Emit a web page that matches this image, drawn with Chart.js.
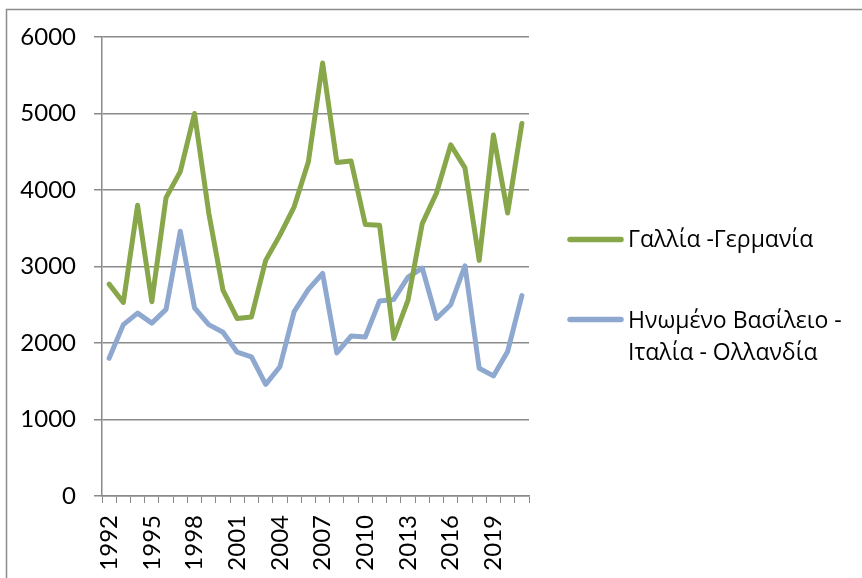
<!DOCTYPE html>
<html>
<head>
<meta charset="utf-8">
<script src="https://cdn.jsdelivr.net/npm/chart.js@4"></script>
<style>
  html, body { margin: 0; padding: 0; background: #ffffff; }
  #wrap { width: 862px; height: 578px; position: relative; }
</style>
</head>
<body>
<div id="wrap"><canvas id="c" width="862" height="578"></canvas></div>
<script>
const years = ['1992','1993','1994','1995','1996','1997','1998','1999','2000','2001',
               '2002','2003','2004','2005','2006','2007','2008','2009','2010','2011',
               '2012','2013','2014','2015','2016','2017','2018','2019','2020','2021'];
const franceGermany = [2770, 2530, 3800, 2540, 3900, 4240, 5000, 3700, 2690, 2320,
                       2340, 3080, 3410, 3780, 4370, 5660, 4360, 4380, 3550, 3540,
                       2060, 2560, 3560, 3960, 4590, 4290, 3080, 4720, 3700, 4870];
const ukItalyNetherlands = [1800, 2240, 2390, 2260, 2440, 3460, 2460, 2240, 2140, 1880,
                            1820, 1460, 1690, 2410, 2700, 2910, 1870, 2090, 2080, 2550,
                            2570, 2860, 2980, 2320, 2500, 3010, 1670, 1570, 1890, 2620];
const seriesLabels = [['Γαλλία -Γερμανία'], ['Ηνωμένο Βασίλειο -', 'Ιταλία - Ολλανδία']];
const yTicks = [0, 1000, 2000, 3000, 4000, 5000, 6000];

const GREEN = '#88a64a';
const BLUE = '#8ea8cf';
const GRID = '#8a8a8a';
const FONT_TICK = 'Lato, "DejaVu Sans", sans-serif';
const FONT_LEGEND = '"Open Sans", "Noto Sans", sans-serif';

const framePlugin = {
  id: 'frame',
  beforeDraw(chart) {
    const ctx = chart.ctx;
    ctx.save();
    ctx.fillStyle = '#ffffff';
    ctx.fillRect(0, 0, chart.width, chart.height);
    ctx.strokeStyle = '#8c8c8c';
    ctx.lineWidth = 1.5;
    ctx.strokeRect(6.5, 9.5, chart.width + 20, chart.height + 20);
    ctx.restore();
  }
};

const legendPlugin = {
  id: 'sideLegend',
  afterDraw(chart) {
    const ctx = chart.ctx;
    const items = [
      { lineY: 239.5, baselines: [246.5] },
      { lineY: 319.5, baselines: [328.3, 360] }
    ];
    ctx.save();
    chart.data.datasets.forEach((ds, i) => {
      const it = items[i];
      ctx.strokeStyle = ds.borderColor;
      ctx.lineWidth = 5.5;
      ctx.lineCap = 'round';
      ctx.beginPath();
      ctx.moveTo(570, it.lineY);
      ctx.lineTo(621, it.lineY);
      ctx.stroke();
      ctx.fillStyle = '#000000';
      ctx.font = '23px ' + FONT_LEGEND;
      ctx.textAlign = 'left';
      ctx.textBaseline = 'alphabetic';
      seriesLabels[i].forEach((line, j) => {
        ctx.fillText(line, 628, it.baselines[j]);
      });
    });
    ctx.restore();
  }
};

new Chart(document.getElementById('c'), {
  type: 'line',
  data: {
    labels: years,
    datasets: [
      {
        label: seriesLabels[0].join(' '),
        data: franceGermany,
        borderColor: GREEN,
        backgroundColor: GREEN,
        borderWidth: 5,
        pointRadius: 0,
        tension: 0,
        borderJoinStyle: 'round',
        borderCapStyle: 'round'
      },
      {
        label: seriesLabels[1].join(' '),
        data: ukItalyNetherlands,
        borderColor: BLUE,
        backgroundColor: BLUE,
        borderWidth: 5,
        pointRadius: 0,
        tension: 0,
        borderJoinStyle: 'round',
        borderCapStyle: 'round'
      }
    ]
  },
  options: {
    responsive: false,
    animation: false,
    devicePixelRatio: 1,
    layout: { padding: { top: 37, right: 333, left: 0, bottom: 0 } },
    plugins: {
      legend: { display: false },
      tooltip: { enabled: false }
    },
    scales: {
      x: {
        type: 'category',
        offset: true,
        grid: {
          display: true,
          offset: true,
          drawOnChartArea: false,
          drawTicks: true,
          tickLength: 7,
          color: GRID,
          lineWidth: 1
        },
        border: { display: true, color: GRID, width: 1.5 },
        ticks: {
          autoSkip: false,
          maxRotation: 90,
          minRotation: 90,
          padding: 12,
          color: '#000000',
          font: { family: FONT_TICK, size: 24 },
          callback: function(value, index) {
            return index % 3 === 0 ? years[index] : '';
          }
        },
        afterFit(scale) { scale.height = 82; }
      },
      y: {
        min: 0,
        max: 6000,
        afterBuildTicks(scale) { scale.ticks = yTicks.map(v => ({ value: v })); },
        grid: {
          color: GRID,
          lineWidth: 1.5,
          drawTicks: true,
          tickLength: 8
        },
        border: { display: true, color: GRID, width: 1.5 },
        ticks: {
          padding: 18,
          color: '#000000',
          font: { family: FONT_TICK, size: 24 },
          callback: function(value) { return String(value); }
        },
        afterFit(scale) { scale.width = 102; }
      }
    }
  },
  plugins: [framePlugin, legendPlugin]
});
</script>
</body>
</html>
